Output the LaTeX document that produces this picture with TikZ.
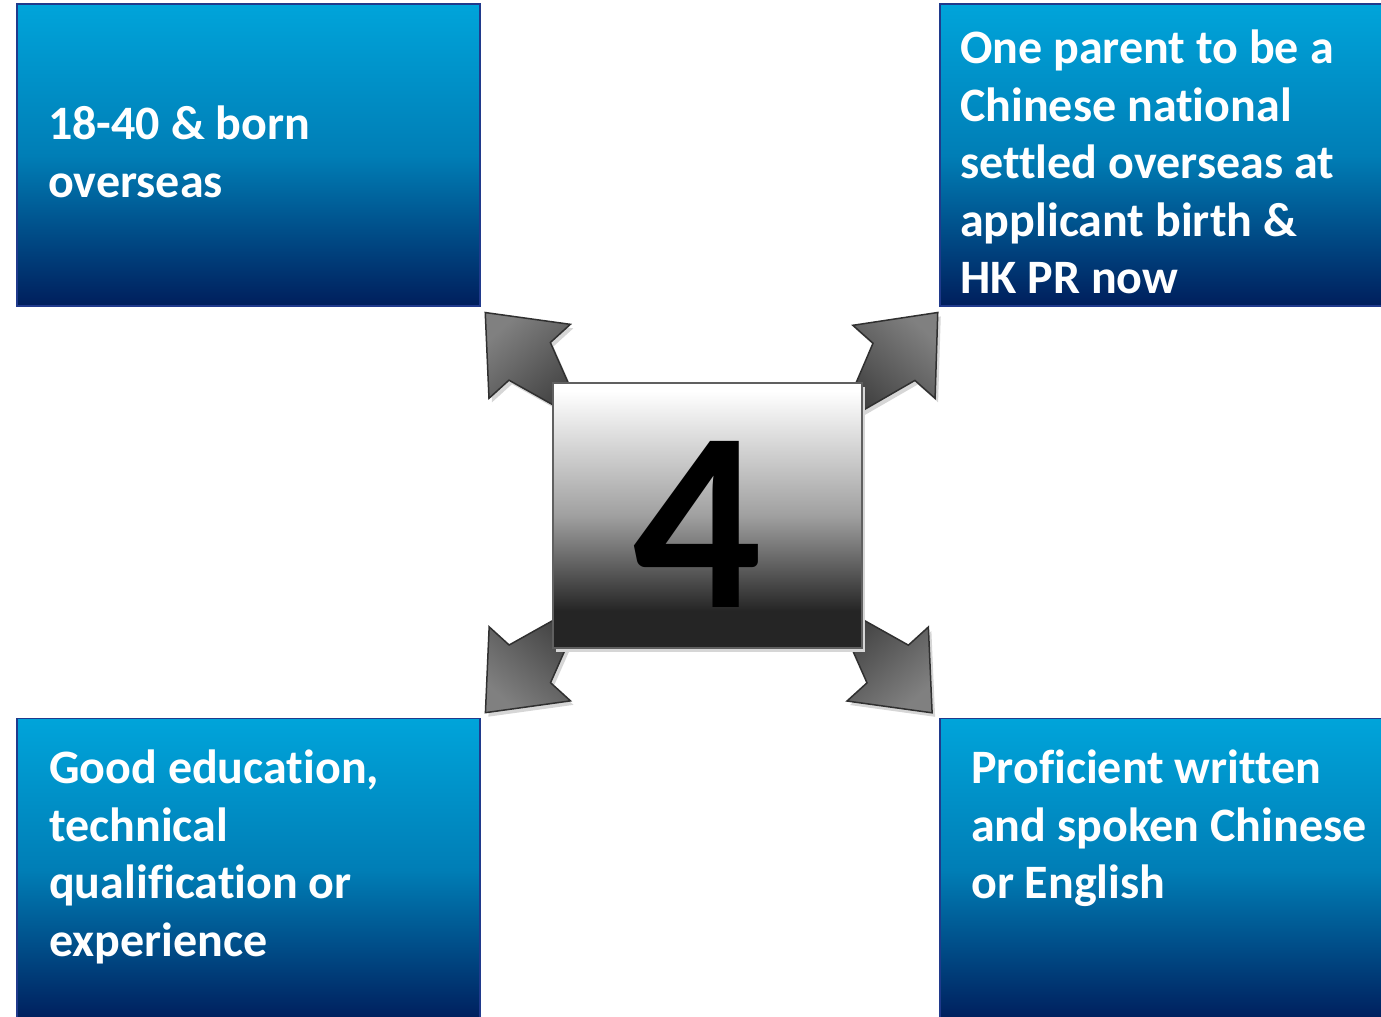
\documentclass[tikz,border=0pt]{standalone}
\usepackage{fontspec}
\setmainfont{Carlito}[Ligatures=NoCommon]
\usetikzlibrary{calc}

\definecolor{boxtop}{RGB}{0,164,218}
\definecolor{boxmid}{RGB}{0,126,182}
\definecolor{boxbot}{RGB}{0,30,92}
\definecolor{boxline}{RGB}{32,58,140}
\definecolor{armlight}{RGB}{128,128,128}
\definecolor{armdark}{RGB}{58,58,58}
\definecolor{armline}{RGB}{48,48,48}
\definecolor{squaredark}{RGB}{37,37,37}
\definecolor{squaremid}{RGB}{160,160,160}
\definecolor{squareline}{RGB}{96,96,96}

% shading of the centre square (bbox maps to 25bp..75bp)
\pgfdeclareverticalshading{squareshade}{100bp}{color(0bp)=(squaredark); color(32bp)=(squaredark); color(50bp)=(squaremid); color(73.5bp)=(white); color(100bp)=(white)}

\tikzset{
  infobox/.style={draw=boxline, line width=1.5pt, top color=boxtop, bottom color=boxbot, middle color=boxmid, minimum width=463pt, minimum height=302pt, inner sep=0pt},
  infotext/.style={text=white, font=\bfseries\fontsize{48}{57.5}\selectfont, align=left, inner sep=0pt, anchor=base west},
  armshape/.style={draw=armline, line width=1.5pt, line join=miter, top color=armlight, bottom color=armdark,
    preaction={fill=black!16, draw=none, transform canvas={shift={(3pt,-4pt)}}}},
  numsquare/.style={draw=squareline, line width=2.5pt, shade, shading=squareshade, minimum width=309pt, minimum height=265pt,
    preaction={fill=black!16, draw=none, transform canvas={shift={(3pt,-4pt)}}}},
  digitlabel/.style={text=black, font=\bfseries\fontsize{256}{256}\selectfont, inner sep=0pt}
}

\begin{document}
\begin{tikzpicture}[x=1pt,y=1pt]
  \useasboundingbox (0,0) rectangle (1381,1017);
  \clip (0,0) rectangle (1381,1017);

  % the four criteria boxes
  \node[infobox, anchor=south west] (agebox) at (16,710) {};
  \node[infobox, anchor=south west] (parentbox) at (939,710) {};
  \node[infobox, anchor=north west] (edubox) at (16,299) {};
  \node[infobox, anchor=north west] (langbox) at (939,299) {};

  % (base west = baseline of the last line)
  \node[infotext] (agetext) at (48,819.5) {18-40 \& born\\overseas};
  \node[infotext] (parenttext) at (960,723) {One parent to be a\\Chinese national\\settled overseas at\\applicant birth \&\\HK PR now};
  \node[infotext] (edutext) at (49,60.5) {Good education,\\technical\\qualification or\\experience};
  \node[infotext] (langtext) at (971,118) {Proficient written\\and spoken Chinese\\or English};

  % arms pointing out of the centre
  \coordinate (hub) at (707.5,501.5);
  \foreach \ang/\len/\dir in {137.6/301/132.3, 41.4/307/48.4, 221.6/297/227.7, -41.3/299/-47.7}{
    \pgfmathsetmacro{\shadeang}{\dir-90}
    \coordinate (tip) at ($(hub)+(\ang:\len)$);
    \draw[armshape, shading angle=\shadeang]
      ($(tip)+(\dir:-150)$) -- ($(tip)+(\dir:-66)+(\dir+90:28)$)
      -- ($(tip)+(\dir:-66)+(\dir+90:55)$) -- (tip)
      -- ($(tip)+(\dir:-66)+(\dir-90:55)$) -- ($(tip)+(\dir:-66)+(\dir-90:28)$)
      -- cycle;
  }

  % centre square with the number
  \node[numsquare] (four) at (hub) {};
  \node[digitlabel] (digit) at ($(four.center)+(-10,-9)$) {4};
\end{tikzpicture}
\end{document}
